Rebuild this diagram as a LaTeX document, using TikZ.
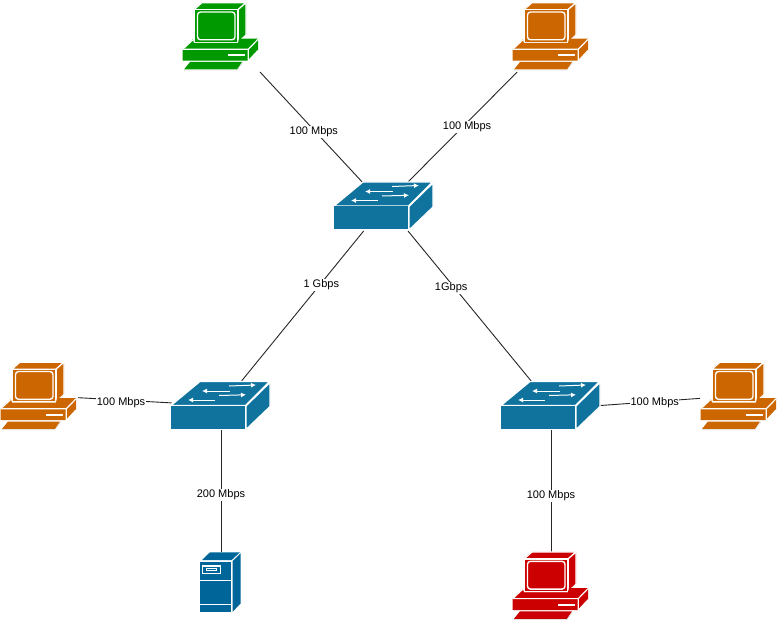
\documentclass[tikz,border=0pt]{standalone}
\usepackage{fontspec}
\setmainfont{Liberation Sans}
\usetikzlibrary{arrows.meta}
\definecolor{gr}{HTML}{009900}
\definecolor{og}{HTML}{CC6600}
\definecolor{rd}{HTML}{CC0000}
\definecolor{sb}{HTML}{10739E}
\definecolor{sv}{HTML}{006699}
\tikzset{
  face/.style={draw=white,line width=1.2pt,line join=round},
  hit/.style={rectangle,minimum width=78pt,minimum height=70pt,inner sep=0pt,outer sep=0pt},
  swhit/.style={rectangle,minimum width=99pt,minimum height=49pt,inner sep=0pt,outer sep=0pt},
  svhit/.style={rectangle,minimum width=41pt,minimum height=60pt,inner sep=0pt,outer sep=0pt},
  link/.style={draw=black!85,line width=0.9pt},
  lab/.style={fill=white,font=\fontsize{11}{13}\selectfont,inner sep=0.6pt,yshift=-2pt},
  swarrow/.style={draw=white,line width=1pt,-{Latex[length=5pt,width=5pt]}},
  pics/pc/.style={code={
    \fill[#1] (24,9) -- (32,2.5) -- (76,2.5) -- (76,35) -- (68,43) -- (24,43) -- cycle;
    \draw[face,fill=#1] (24,9.7) -- (32,2.7) -- (76,2.7) -- (68,9.7) -- cycle;
    \draw[face,fill=#1] (68,9.7) -- (76,2.7) -- (76,35) -- (68,42.5) -- cycle;
    \draw[face,fill=#1] (24,9.7) rectangle (68,42.5);
    \draw[draw=white,line width=1.4pt,rounded corners=3pt] (27.5,12) rectangle (65,39.8);
    \fill[#1] (12.7,49) -- (22.7,39.5) -- (24,43) -- (68,43) -- (69,38.7) -- (88,38.7) -- (88,50.5) -- (78.3,60.7) -- (12.7,60.7) -- cycle;
    \draw[face] (12.7,49.3) -- (22.7,40);
    \draw[face] (12.7,49.3) -- (78.3,49.3) -- (88,39.3);
    \draw[face] (78.3,49.3) -- (78.3,60.9) -- (88,50.5);
    \draw[draw=white,line width=2pt] (58,55.5) -- (75,55.5);
    \fill[#1] (14,69.5) -- (20,62) -- (72,62) -- (67,69.5) -- cycle;
    \draw[draw=black!12,line width=0.6pt] (14,70.2) -- (67,70.2) -- (73,62.5);
  }},
  pics/switch/.style={code={
    \draw[face,fill=sb] (334,206) -- (363,182) -- (432.5,182) -- (408.5,206) -- cycle;
    \draw[face,fill=sb] (409,206.5) -- (433,183) -- (433,207) -- (409,230) -- cycle;
    \fill[sb] (334,206.5) rectangle (408.3,229.5);
    \draw[swarrow] (392,186.5) -- (419,185.5);
    \draw[swarrow] (393,191.5) -- (365,191.5);
    \draw[swarrow] (382,196) -- (409,195.3);
    \draw[swarrow] (378,200.5) -- (351,200.5);
  }},
  pics/server/.style={code={
    \fill[sv] (10,16.7) rectangle (40.7,66.7);
    \fill[sv] (12,15) -- (20,7.3) -- (50,7.3) -- (41.7,15) -- cycle;
    \fill[sv] (42.7,16) -- (50.7,8.3) -- (50.7,58.3) -- (42.7,66.7) -- cycle;
    \draw[draw=white,line width=1.2pt] (12.7,21) rectangle (30.7,28.3);
    \draw[draw=white,line width=0.9pt] (16.7,23.5) rectangle (26,25.8);
    \draw[draw=white,line width=1.3pt] (10,35.3) -- (41,35.3);
    \draw[draw=white,line width=1.3pt] (10,59.5) -- (41,59.5);
  }}
}
\begin{document}
\begin{tikzpicture}[x=1pt,y=-1pt]
\useasboundingbox (0,0) rectangle (780,623);
\fill[white] (0,0) rectangle (780,623);
% device frames
\node[hit]   (pcg) at (221,37) {};
\node[hit]   (pct) at (551,37) {};
\node[hit]   (pcl) at (39,397) {};
\node[hit]   (pcr) at (739,397) {};
\node[hit]   (pcb) at (551,587) {};
\node[swhit] (swc) at (383.5,206.5) {};
\node[swhit] (swl) at (221,405.5) {};
\node[swhit] (swr) at (551,405.5) {};
\node[svhit] (srv) at (221,582) {};
% connectors
\draw[link] (pcg.south east) -- node[lab,pos=0.527] (l1) {100 Mbps} (swc.131.3);
\draw[link] (pct.-134.2) -- node[lab,pos=0.482,xshift=2.5pt] (l2) {100 Mbps} (swc.45);
\draw[link] (swc.-129.9) -- node[lab,pos=0.347] (l3) {1 Gbps} (swl.50.8);
\draw[link] (swc.-45) -- node[lab,pos=0.367,xshift=-2pt] (l4) {1Gbps} (swr.129.2);
\draw[link] (pcl.-1.5) -- node[lab,pos=0.46,yshift=-1pt] (l5) {100 Mbps} (swl.177.1);
\draw[link] (swl.south) -- node[lab,pos=0.516] (l6) {200 Mbps} (srv.north);
\draw[link] (swr.east) -- node[lab,pos=0.545,yshift=1pt] (l7) {100 Mbps} (pcr.-178.5);
\draw[link] (swr.south) -- node[lab,pos=0.525] (l8) {100 Mbps} (pcb.north);
% icons
\pic at (170,0) {pc=gr};
\pic at (500,0) {pc=og};
\pic at (-12,359.5) {pc=og};
\pic at (688,359.5) {pc=og};
\pic at (500,549.3) {pc=rd};
\pic at (0,0) {switch};
\pic at (-163,199.5) {switch};
\pic at (167,199.5) {switch};
\pic at (190,545) {server};
\end{tikzpicture}
\end{document}
